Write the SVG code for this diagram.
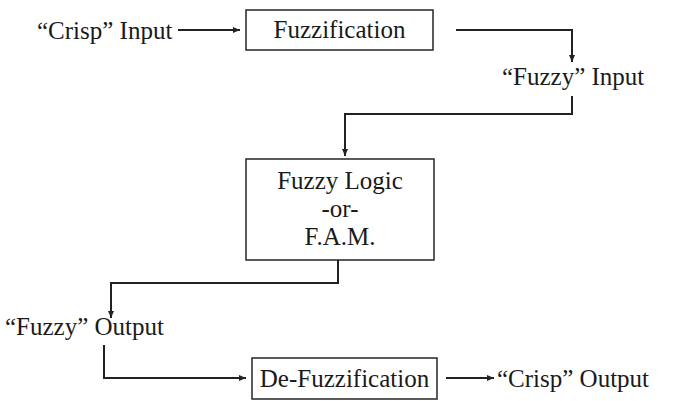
<svg xmlns="http://www.w3.org/2000/svg" width="676" height="401" viewBox="0 0 676 401">
<defs>
<style>
text{font-family:"Liberation Serif","Times New Roman",serif;font-size:25px;fill:#1a1a1a}
.box{fill:#fff;stroke:#333;stroke-width:1.6}
.c{text-anchor:middle}
.edge{fill:none;stroke:#222;stroke-width:2}
</style>
<marker id="ah" markerUnits="userSpaceOnUse" markerWidth="8" markerHeight="8" viewBox="0 0 8 8" refX="7" refY="4" orient="auto">
<path d="M0,1 L7,4 L0,7 Z" fill="#222"/>
</marker>
</defs>
<rect width="676" height="401" fill="#fff"/>
<g id="crisp-input"><text x="37" y="39">“Crisp” Input</text></g>
<g id="fuzzification"><rect class="box" x="246" y="10" width="187" height="40"/><text class="c" x="339.5" y="38">Fuzzification</text></g>
<g id="fuzzy-input"><text x="502" y="85">“Fuzzy” Input</text></g>
<g id="fuzzy-logic"><rect class="box" x="246" y="159" width="188" height="101"/>
<text class="c" x="340" y="189">Fuzzy Logic</text>
<text class="c" x="340" y="217">-or-</text>
<text class="c" x="340" y="245">F.A.M.</text></g>
<g id="fuzzy-output"><text x="5" y="335">“Fuzzy” Output</text></g>
<g id="defuzzification"><rect class="box" x="252" y="358" width="185" height="41"/><text class="c" x="344.5" y="387">De-Fuzzification</text></g>
<g id="crisp-output"><text x="497" y="387">“Crisp” Output</text></g>
<g id="connectors">
<path class="edge" d="M178 30 H240" marker-end="url(#ah)"/>
<path class="edge" d="M456 30 H572 V62" marker-end="url(#ah)"/>
<path class="edge" d="M572 96 V114 H345 V156" marker-end="url(#ah)"/>
<path class="edge" d="M338 260 V283 H111 V318" marker-end="url(#ah)"/>
<path class="edge" d="M104 345 V378 H246" marker-end="url(#ah)"/>
<path class="edge" d="M446 378 H494" marker-end="url(#ah)"/>
</g>
</svg>
